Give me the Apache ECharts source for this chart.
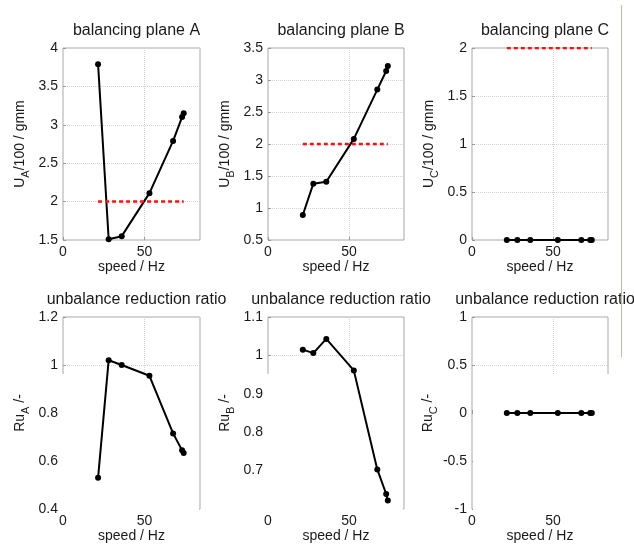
<!DOCTYPE html>
<html>
<head>
<meta charset="utf-8">
<script src="https://cdn.jsdelivr.net/npm/echarts@6/dist/echarts.min.js"></script>
<style>
  html, body { margin: 0; padding: 0; background: #fff; }
  #chart { width: 634px; height: 549px; }
</style>
</head>
<body>
<div id="chart"></div>
<script>
// data
var speed = [21.5, 28, 36, 53, 67.5, 73, 74];
var unbalA = [3.79, 1.51, 1.55, 2.11, 2.79, 3.10, 3.15];
var unbalB = [0.89, 1.38, 1.41, 2.08, 2.85, 3.14, 3.22];
var unbalC = [0, 0, 0, 0, 0, 0, 0];
var ratioA = [0.53, 1.02, 1.00, 0.955, 0.715, 0.645, 0.633];
var ratioB = [1.015, 1.006, 1.043, 0.961, 0.703, 0.639, 0.622];
var ratioC = [0, 0, 0, 0, 0, 0, 0];
var limitSpeed = [21.5, 74];
var limitU = 2;

var titles = ['balancing plane A', 'balancing plane B', 'balancing plane C',
  'unbalance reduction ratio', 'unbalance reduction ratio', 'unbalance reduction ratio'];
var planes = ['A', 'B', 'C'];
var yMin = [1.5, 0.5, 0, 0.4, 0.6, -1];
var yMax = [4, 3.5, 2, 1.2, 1.1, 1];
var yStep = [0.5, 0.5, 0.5, 0.2, 0.1, 0.5];
var xMax = 84, xStep = 50;

// layout (px)
var cols = [[63, 137], [268, 136], [472, 136]];
var rows = [[48, 192], [317, 192]];
var cutY = 374;

var font = 'Liberation Sans, Arial, sans-serif';
var ink = '#1a1a1a';
var values = [unbalA, unbalB, unbalC, ratioA, ratioB, ratioC];

function buildOption() {
  var grids = [], xAxes = [], yAxes = [], series = [], titleList = [], shapes = [];

  for (var i = 0; i < 6; i++) {
    var r = Math.floor(i / 3), c = i % 3;
    var gl = cols[c][0], gw = cols[c][1], gt = rows[r][0], gh = rows[r][1];

    grids.push({
      left: gl, top: gt, width: gw, height: gh,
      show: true, borderColor: '#a8a8a8', borderWidth: 1,
      backgroundColor: 'transparent'
    });

    titleList.push({
      text: titles[i],
      left: gl + gw / 2, top: r === 0 ? 18 : 287,
      textAlign: 'center',
      textStyle: { fontFamily: font, fontSize: 16, fontWeight: 'normal', color: ink }
    });

    xAxes.push({
      type: 'value', gridIndex: i, min: 0, max: xMax, interval: xStep,
      name: 'speed / Hz', nameLocation: 'middle', nameGap: r === 0 ? 19 : 20,
      nameTextStyle: { fontFamily: font, fontSize: 14, color: ink },
      axisLine: { show: false },
      axisTick: { show: true, inside: true, length: 3, lineStyle: { color: '#999' } },
      axisLabel: { fontFamily: font, fontSize: 14, color: ink, margin: 5, showMaxLabel: false },
      splitLine: { show: true, lineStyle: { color: '#d4d4d4', type: 'dotted' } }
    });

    var yName = r === 0
      ? '{n|U}{s|' + planes[c] + '}{n|/100 / gmm}'
      : '{n|Ru}{s|' + planes[c] + '}{n| /-}';
    yAxes.push({
      type: 'value', gridIndex: i, min: yMin[i], max: yMax[i], interval: yStep[i],
      name: yName, nameLocation: 'middle', nameGap: 32,
      nameTextStyle: {
        fontFamily: font, color: ink,
        rich: {
          n: { fontFamily: font, fontSize: 14, color: ink, lineHeight: 22 },
          s: { fontFamily: font, fontSize: 11, color: ink, lineHeight: 22, verticalAlign: 'bottom' }
        }
      },
      axisLine: { show: false },
      axisTick: { show: true, inside: true, length: 3, lineStyle: { color: '#999' } },
      axisLabel: { fontFamily: font, fontSize: 14, color: ink, margin: 5, showMinLabel: i !== 4 },
      splitLine: { show: true, lineStyle: { color: '#d4d4d4', type: 'dotted' } }
    });

    series.push({
      type: 'line', xAxisIndex: i, yAxisIndex: i, clip: false,
      data: speed.map(function (s, k) { return [s, values[i][k]]; }),
      symbol: 'circle', symbolSize: 6,
      itemStyle: { color: '#000' },
      lineStyle: { color: '#000', width: 2 },
      z: 3
    });

    if (r === 0) {
      series.push({
        type: 'line', xAxisIndex: i, yAxisIndex: i, clip: true,
        data: limitSpeed.map(function (s) { return [s, limitU]; }),
        symbol: 'none',
        lineStyle: { color: '#ff1010', width: 2.5, type: [4, 3] },
        z: 4
      });
    } else {
      // white patch over the lower part of the frame, as in the scan
      var x0 = c === 2 ? gl + 1 : gl - 3;
      var x1 = c === 2 ? gl + gw + 3 : gl + gw - 1;
      shapes.push({
        type: 'rect', z: 1, silent: true,
        shape: { x: x0, y: cutY, width: x1 - x0, height: gt + gh + 3 - cutY },
        style: { fill: '#fff' }
      });
    }
  }

  // thin red rule at the right edge
  shapes.push({
    type: 'line', z: 10, silent: true,
    shape: { x1: 621.5, y1: 5, x2: 621.5, y2: 357 },
    style: { stroke: '#f4a3a3', lineWidth: 1 }
  });

  return {
    animation: false,
    backgroundColor: '#fff',
    title: titleList,
    grid: grids,
    xAxis: xAxes,
    yAxis: yAxes,
    series: series,
    graphic: { elements: shapes }
  };
}

var chart = echarts.init(document.getElementById('chart'));
chart.setOption(buildOption());
</script>
</body>
</html>
